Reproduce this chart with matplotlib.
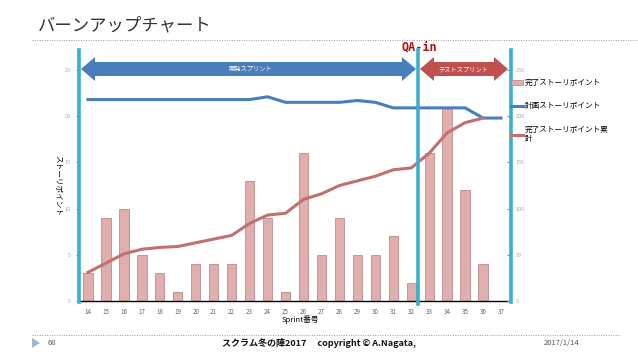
import numpy as np
import matplotlib
matplotlib.use("Agg")
import matplotlib.pyplot as plt
from matplotlib.patches import Polygon
from matplotlib.lines import Line2D

plt.rcParams['font.family'] = ['Noto Sans CJK JP', 'DejaVu Sans']

# ---- data ----
sprints = [str(s) for s in range(14, 38)]
completed = [3, 9, 10, 5, 3, 1, 4, 4, 4, 13, 9, 1, 16, 5, 9, 5, 5, 7, 2, 16, 21, 12, 4, np.nan]
planned = [218, 218, 218, 218, 218, 218, 218, 218, 218, 218, 221, 215, 215, 215, 215,
           217, 215, 209, 209, 209, 209, 209, 198, 198]
cumulative = [31, 41, 51, 56, 58, 59, 63, 67, 71, 84, 93, 95, 110, 116, 125, 130, 135,
              142, 144, 160, 182, 193, 198, np.nan]
left_ticks = [0, 5, 10, 15, 20, 25]
right_ticks = [0, 50, 100, 150, 200, 250]

W, H = 638, 359
fig = plt.figure(figsize=(W / 100, H / 100), dpi=100)

def fx(x):
    return x / W

def fy(y):
    return 1 - y / H

ax = fig.add_axes([fx(79), fy(301), fx(510) - fx(79), fy(70) - fy(301)])
ax2 = ax.twinx()

x = np.arange(len(sprints))
ax.bar(x, completed, width=0.52, color='#DFAEAD', edgecolor='#B98C8B', linewidth=0.6,
       zorder=2, label='完了ストーリポイント')
ax2.plot(x, planned, color='#4A7EBB', lw=2.2, label='計画ストーリポイント', zorder=3)
ax2.plot(x, cumulative, color='#C0706E', lw=2.2, label='完了ストーリポイント累\n計', zorder=3)

ax.set_xlim(-0.5, len(sprints) - 0.5)
ax.set_ylim(0, 25)
ax2.set_ylim(0, 250)
ax.set_xticks(x)
ax.set_xticklabels(sprints)
ax.set_yticks(left_ticks)
ax2.set_yticks(right_ticks)
ax.tick_params(axis='x', labelsize=4.5, labelcolor='#666666', length=0, pad=5)
ax.tick_params(axis='y', labelsize=4, labelcolor='#aaaaaa', length=2, color='#888888', pad=4)
ax2.tick_params(axis='y', labelsize=4, labelcolor='#aaaaaa', length=2, color='#888888', pad=4,
                direction='in')
for a in (ax, ax2):
    for s in ('top', 'left', 'right'):
        a.spines[s].set_visible(False)
ax.spines['bottom'].set_color('black')
ax.spines['bottom'].set_linewidth(1.0)
ax2.spines['bottom'].set_visible(False)

# cyan vertical lines
cyan = '#3BAFD0'
for xp, y0, y1 in [(78.5, 50, 302), (418, 50, 304), (510.5, 50, 302)]:
    fig.add_artist(Line2D([fx(xp), fx(xp)], [fy(y0), fy(y1)], color=cyan, lw=2.6, zorder=5))

# double arrows
def darrow(x0, x1, yc, hh, sh, hl, color):
    pts = [(x0, yc), (x0 + hl, yc - hh), (x0 + hl, yc - sh), (x1 - hl, yc - sh),
           (x1 - hl, yc - hh), (x1, yc), (x1 - hl, yc + hh), (x1 - hl, yc + sh),
           (x0 + hl, yc + sh), (x0 + hl, yc + hh)]
    poly = Polygon([(fx(a), fy(b)) for a, b in pts], closed=True, transform=fig.transFigure,
                   facecolor=color, edgecolor='none', zorder=4)
    fig.add_artist(poly)

darrow(81, 416, 69, 12, 7, 14, '#4A7EBB')
darrow(420, 508, 69, 12, 7, 14, '#C0504D')
fig.text(fx(250), fy(69), '開発スプリント', color='white', fontsize=4.5, ha='center', va='center', zorder=6)
fig.text(fx(463), fy(69), 'テストスプリント', color='white', fontsize=4.5, ha='center', va='center', zorder=6)
fig.text(fx(419), fy(47), 'QA-in', color='#B01010', fontsize=8.5, fontweight='bold',
         ha='center', va='center', family=['DejaVu Sans Mono', 'DejaVu Sans'])

# axis labels
fig.text(fx(58), fy(186), 'ストーリポイント', rotation=270, fontsize=5.5, ha='center', va='center')
fig.text(fx(300), fy(320), 'Sprint番号', fontsize=5.5, ha='center', va='center')

# legend
h1, l1 = ax.get_legend_handles_labels()
h2, l2 = ax2.get_legend_handles_labels()
leg = fig.legend(h1 + h2, l1 + l2, loc='upper left', bbox_to_anchor=(fx(508), fy(76)),
                 frameon=False, fontsize=5.5, handlelength=1.6, handleheight=0.5,
                 labelspacing=2.0, handletextpad=0.2, borderaxespad=0)

# title + header line
fig.text(fx(38), fy(25), 'バーンアップチャート', fontsize=12.5, ha='left', va='center', color='#333333')
fig.add_artist(Line2D([fx(32), 1.0], [fy(40), fy(40)], color='#9a9a9a', lw=0.7, ls=(0, (1, 1.5))))

# footer
fig.add_artist(Line2D([fx(32), fx(619)], [fy(335), fy(335)], color='#9a9a9a', lw=0.7, ls=(0, (1, 1.5))))
tri = Polygon([(fx(32), fy(338)), (fx(32), fy(348)), (fx(40), fy(343))], closed=True,
              transform=fig.transFigure, facecolor='#9DB8CC', edgecolor='none')
fig.add_artist(tri)
fig.text(fx(48), fy(343), '68', fontsize=5.5, color='#555555', ha='left', va='center')
fig.text(fx(222), fy(343), 'スクラム冬の陣2017　 copyright © A.Nagata,', fontsize=6.5,
         fontweight='bold', ha='left', va='center', color='#111111')
fig.text(fx(579), fy(343), '2017/1/14', fontsize=5.5, color='#555555', ha='right', va='center')

fig.savefig('out.png', dpi=100)
